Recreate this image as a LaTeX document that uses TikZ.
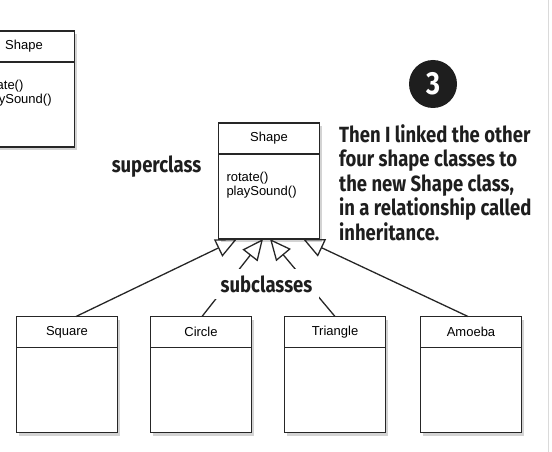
\documentclass[tikz,border=0pt]{standalone}
\usepackage{fontspec}
\setmainfont{Liberation Sans}
\newfontfamily\handfont{Fira Sans}[FakeStretch=0.84]
\usetikzlibrary{arrows.meta, positioning, shadows}
\definecolor{ink}{HTML}{1E1E1E}
\definecolor{edge}{HTML}{262626}
\definecolor{pagerule}{HTML}{DADADA}
\newcommand{\members}[1]{\parbox[c][85pt][t]{85pt}{\vspace*{18pt}#1}}
\tikzset{
  classhead/.style={rectangle, draw=edge, fill=white, line width=1.4pt, minimum width=101pt, minimum height=31pt, inner sep=0pt, outer sep=0pt, font=\fontsize{13}{14}\selectfont, drop shadow={shadow xshift=2.5pt, shadow yshift=-3pt, opacity=0.35}},
  classbody/.style={classhead, minimum height=85pt},
  hand/.style={font=\handfont\bfseries\fontsize{22}{24.5}\selectfont, text=ink, inner sep=0pt},
  inherit/.style={-{Triangle[open, length=21pt, width=19pt]}, line width=1.3pt, draw=edge},
}

\begin{document}
\begin{tikzpicture}[x=1pt, y=-1pt]
  \useasboundingbox (0,0) rectangle (552,452);
  \clip (0,0) rectangle (552,452);
  \draw[pagerule, line width=1pt] (548,0) -- (548,452);
  % earlier Shape class, cut off at the left edge
  \node[classhead] (oldshape) at (24,46.5) {Shape};
  \node[classbody, below=0pt of oldshape] (oldbody) {\members{rotate()\\playSound()}};
  % the new superclass
  \node[classhead] (shape) at (269,138.5) {Shape};
  \node[classbody, below=0pt of shape] (shapebody) {\members{rotate()\\playSound()}};
  % the four subclasses
  \node[classhead] (square) at (67,332) {Square};
  \node[classhead, right=33pt of square] (circle) {Circle};
  \node[classhead, right=33pt of circle] (triangle) {Triangle};
  \node[classhead, right=35pt of triangle] (amoeba) {Amoeba};
  \node[classbody, below=0pt of square] (squarebody) {};
  \node[classbody, below=0pt of circle] (circlebody) {};
  \node[classbody, below=0pt of triangle] (trianglebody) {};
  \node[classbody, below=0pt of amoeba] (amoebabody) {};
  % inheritance arrows
  \coordinate (tipA) at ([xshift=-32pt]shapebody.south);
  \coordinate (tipB) at ([xshift=-6pt]shapebody.south);
  \coordinate (tipC) at ([xshift=1pt]shapebody.south);
  \coordinate (tipD) at ([xshift=34pt]shapebody.south);
  \draw[inherit] ([xshift=9pt]square.north) -- (tipA);
  \draw[inherit] ([xshift=1pt]circle.north) -- (tipB);
  \draw[inherit] (triangle.north) -- (tipC);
  \draw[inherit] ([xshift=-3pt]amoeba.north) -- (tipD);
  % labels
  \node[hand] (super) at (156.5,167) {superclass};
  \node[hand, fill=white, inner xsep=7pt, inner ysep=6pt] (sub) at (266.5,284) {subclasses};
  \node[circle, fill=ink, minimum size=48pt, inner sep=0pt, text=white, font=\handfont\bfseries\fontsize{32}{32}\selectfont] (stepnum) at (433,84) {3};
  \node[hand, anchor=north west, align=left] (note) at (339,124) {Then I linked the other\\four shape classes to\\the new Shape class,\\in a relationship called\\inheritance.};
\end{tikzpicture}
\end{document}
